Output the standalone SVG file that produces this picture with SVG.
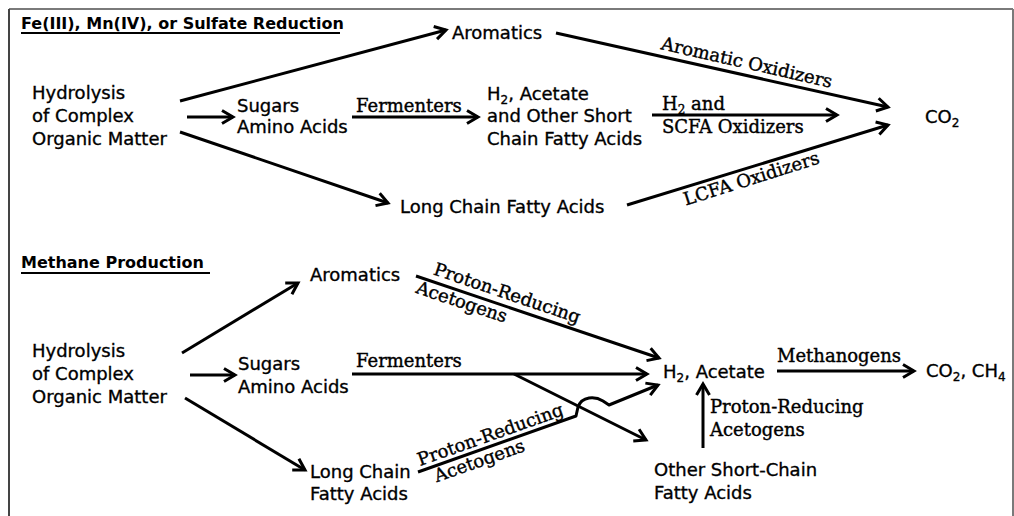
<svg xmlns="http://www.w3.org/2000/svg" width="1014" height="516" viewBox="0 0 1014 516">
  <style>
    .sans { font-family: "DejaVu Sans", "Liberation Sans", sans-serif; font-size: 18px; fill: #000; stroke: #000; stroke-width: 0.35; }
    .serif { font-family: "DejaVu Serif", "Liberation Serif", serif; font-size: 18px; fill: #000; stroke: #000; stroke-width: 0.4; }
    .title { font-family: "DejaVu Sans", "Liberation Sans", sans-serif; font-size: 16px; font-weight: bold; fill: #000; }
    .rule { stroke: #000; stroke-width: 2; }
    .edge { stroke: #000; stroke-width: 3; fill: none; stroke-linejoin: round; }
    .arrow { marker-end: url(#head); }
  </style>
  <defs>
    <marker id="head" markerUnits="userSpaceOnUse" viewBox="-14 -9 16 18" refX="0" refY="0" markerWidth="16" markerHeight="18" orient="auto" overflow="visible">
      <path d="M-11,-6.5 L0,0 L-11,6.5" fill="none" stroke="#000" stroke-width="3" stroke-linejoin="miter"/>
    </marker>
  </defs>

  <rect width="1014" height="516" fill="#fff"/>
  <!-- frame -->
  <path d="M9,9 L1013,9 M1013,9 L1013,516" stroke="#7a7a7a" stroke-width="2" fill="none"/>
  <path d="M9,9 L9,516" stroke="#444" stroke-width="2" fill="none"/>

  <!-- ===== Fe(III), Mn(IV), or Sulfate Reduction ===== -->
  <g id="title-reduction">
    <text class="title" x="21" y="29">Fe(III), Mn(IV), or Sulfate Reduction</text>
    <line class="rule" x1="21" y1="33" x2="340" y2="33"/>
  </g>
  <g id="r-hydrolysis">
    <text class="sans" x="32" y="99">Hydrolysis</text>
    <text class="sans" x="32" y="122">of Complex</text>
    <text class="sans" x="32" y="145">Organic Matter</text>
  </g>
  <g id="r-sugars">
    <text class="sans" x="237" y="112">Sugars</text>
    <text class="sans" x="237" y="133">Amino Acids</text>
  </g>
  <g id="r-aromatics">
    <text class="sans" x="452" y="39">Aromatics</text>
  </g>
  <g id="r-h2-acetate">
    <text class="sans" x="487" y="100">H<tspan font-size="12" dy="4">2</tspan><tspan dy="-4">, Acetate</tspan></text>
    <text class="sans" x="487" y="122">and Other Short</text>
    <text class="sans" x="487" y="145">Chain Fatty Acids</text>
  </g>
  <g id="r-lcfa">
    <text class="sans" x="400" y="213">Long Chain Fatty Acids</text>
  </g>
  <g id="r-co2">
    <text class="sans" x="925" y="123">CO<tspan font-size="12" dy="4">2</tspan></text>
  </g>

  <!-- ===== Methane Production ===== -->
  <g id="title-methane">
    <text class="title" x="21" y="268">Methane Production</text>
    <line class="rule" x1="21" y1="273" x2="210" y2="273"/>
  </g>
  <g id="m-hydrolysis">
    <text class="sans" x="32" y="357">Hydrolysis</text>
    <text class="sans" x="32" y="380">of Complex</text>
    <text class="sans" x="32" y="403">Organic Matter</text>
  </g>
  <g id="m-aromatics">
    <text class="sans" x="310" y="281">Aromatics</text>
  </g>
  <g id="m-sugars">
    <text class="sans" x="238" y="370">Sugars</text>
    <text class="sans" x="238" y="393">Amino Acids</text>
  </g>
  <g id="m-lcfa">
    <text class="sans" x="310" y="478">Long Chain</text>
    <text class="sans" x="310" y="500">Fatty Acids</text>
  </g>
  <g id="m-h2-acetate">
    <text class="sans" x="663" y="378">H<tspan font-size="12" dy="4">2</tspan><tspan dy="-4">, Acetate</tspan></text>
  </g>
  <g id="m-products">
    <text class="sans" x="926" y="377">CO<tspan font-size="12" dy="4">2</tspan><tspan dy="-4">, CH</tspan><tspan font-size="12" dy="4">4</tspan></text>
  </g>
  <g id="m-scfa">
    <text class="sans" x="654" y="476">Other Short-Chain</text>
    <text class="sans" x="654" y="499">Fatty Acids</text>
  </g>

  <!-- ===== connectors ===== -->
  <g id="connectors">
    <!-- reduction pathway -->
    <path class="edge arrow" d="M180,101 L446,30"/>
    <path class="edge arrow" d="M187,117 L233,117"/>
    <path class="edge arrow" d="M180,132 L388,203"/>
    <path class="edge arrow" d="M352,117 L478,117"/>
    <path class="edge arrow" d="M556,33 L888,107"/>
    <path class="edge arrow" d="M652,115 L837,115"/>
    <path class="edge arrow" d="M627,205 L888,125"/>

    <text class="serif" x="356" y="112">Fermenters</text>
    <text class="serif" x="662" y="110">H<tspan font-size="12" dy="4">2</tspan><tspan dy="-4"> and</tspan></text>
    <text class="serif" x="662" y="133">SCFA Oxidizers</text>
    <text class="serif" text-anchor="middle" transform="translate(744,75.3) rotate(12.8)" x="0" y="-7">Aromatic Oxidizers</text>
    <text class="serif" text-anchor="middle" transform="translate(748,168.1) rotate(-17.5)" x="0" y="17">LCFA Oxidizers</text>

    <!-- methanogenic pathway -->
    <path class="edge arrow" d="M182,353 L298,283"/>
    <path class="edge arrow" d="M190,375 L235,375"/>
    <path class="edge arrow" d="M185,398 L305,470"/>
    <path class="edge arrow" d="M416,276 L659,358"/>
    <path class="edge arrow" d="M352,374 L647,374"/>
    <path class="edge arrow" d="M514,374 L646,440"/>
    <path class="edge arrow" d="M418,472 L576,416 L578,407 C582,396 595,396 603,401 L609,405 L658,385"/>
    <path class="edge arrow" d="M777,371 L914,371"/>
    <path class="edge arrow" d="M703,448 L703,384"/>

    <text class="serif" x="356" y="367">Fermenters</text>
    <text class="serif" x="777" y="362">Methanogens</text>
    <text class="serif" x="710" y="413">Proton-Reducing</text>
    <text class="serif" x="710" y="436">Acetogens</text>
    <text class="serif" text-anchor="middle" transform="translate(503,305.4) rotate(18.65)" x="0" y="-7">Proton-Reducing</text>
    <text class="serif" text-anchor="middle" transform="translate(465,292.5) rotate(18.65)" x="0" y="16">Acetogens</text>
    <text class="serif" text-anchor="middle" transform="translate(494,445.1) rotate(-19.52)" x="0" y="-5">Proton-Reducing</text>
    <text class="serif" text-anchor="middle" transform="translate(476,451.4) rotate(-19.52)" x="0" y="16">Acetogens</text>
  </g>
</svg>
